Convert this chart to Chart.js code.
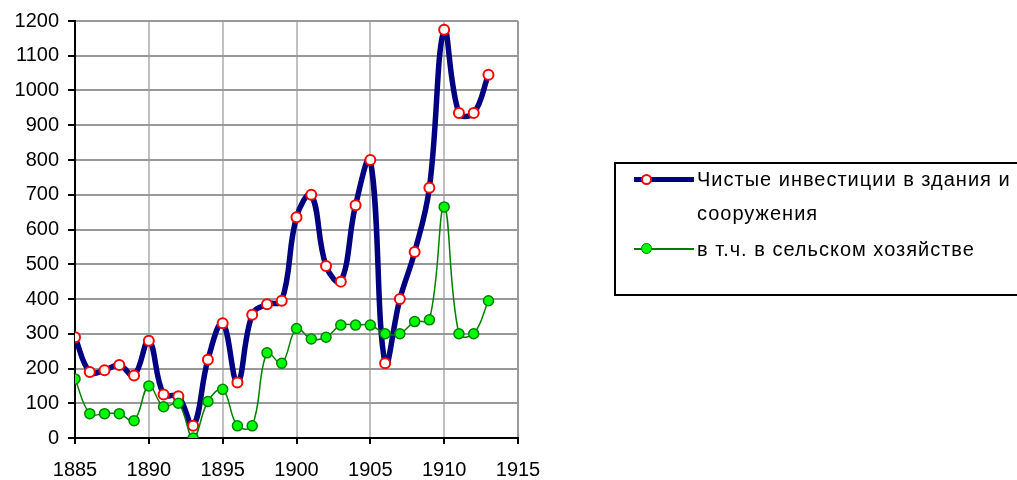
<!DOCTYPE html>
<html lang="ru">
<head>
<meta charset="UTF-8">
<title>Инвестиции в здания и сооружения</title>
<script src="https://cdn.jsdelivr.net/npm/chart.js"></script>
<style>
  html, body { margin: 0; padding: 0; background: #fff; overflow: hidden; }
  #wrap { position: relative; width: 1017px; height: 480px; }
  #legend {
    position: absolute; left: 614px; top: 162px; width: 440px; height: 134px;
    border: 2px solid #000; box-sizing: border-box;
    font-family: "Liberation Sans", Arial, sans-serif; font-size: 20px; color: #000;
  }
  .item { position: absolute; left: 0; }
  .sample { position: absolute; left: 18px; width: 60px; }
  .txt { position: absolute; left: 81px; white-space: nowrap; line-height: 34px; letter-spacing: 1px; }
  .dot { position: absolute; border-radius: 50%; box-sizing: border-box; width: 11px; height: 11px; left: 25px; }
</style>
</head>
<body>
<div id="wrap">
  <canvas id="chart" width="1017" height="480"></canvas>
  <div id="legend">
    <div class="item" style="top:0">
      <div class="sample" style="top:13px;height:5px;background:#000080"></div>
      <div class="dot" style="top:10px;background:#fff;border:2px solid #ff0000"></div>
      <div class="txt" style="top:-2px">Чистые инвестиции в здания и<br>сооружения</div>
    </div>
    <div class="item" style="top:69px">
      <div class="sample" style="top:15px;height:2px;background:#008000"></div>
      <div class="dot" style="top:10px;background:#00ff00;border:1.5px solid #008000"></div>
      <div class="txt" style="top:-1px">в т.ч. в сельском хозяйстве</div>
    </div>
  </div>
</div>
<script>
// годы и значения
const years = [1885, 1886, 1887, 1888, 1889, 1890, 1891, 1892, 1893, 1894,
               1895, 1896, 1897, 1898, 1899, 1900, 1901, 1902, 1903, 1904,
               1905, 1906, 1907, 1908, 1909, 1910, 1911, 1912, 1913];
const totalInvest = [290, 190, 195, 210, 180, 280, 125, 120, 35, 225,
                     330, 160, 355, 385, 395, 635, 700, 495, 450, 670,
                     800, 215, 400, 535, 720, 1175, 935, 935, 1045];
const agriInvest = [170, 70, 70, 70, 50, 150, 90, 100, 0, 105,
                    140, 35, 35, 245, 215, 315, 285, 290, 325, 325,
                    325, 300, 300, 335, 340, 665, 300, 300, 395];
const seriesNames = ['Чистые инвестиции в здания и сооружения', 'в т.ч. в сельском хозяйстве'];

const toPoints = vals => vals.map((v, i) => ({ x: years[i], y: v }));

new Chart(document.getElementById('chart'), {
  type: 'line',
  data: {
    datasets: [
      {
        label: seriesNames[0],
        data: toPoints(totalInvest),
        borderColor: '#000080',
        borderWidth: 5.5,
        tension: 0.4,
        pointRadius: 5,
        pointBorderWidth: 2,
        pointBackgroundColor: '#fff',
        pointBorderColor: '#ff0000',
        order: 1
      },
      {
        label: seriesNames[1],
        data: toPoints(agriInvest),
        borderColor: '#008000',
        borderWidth: 1.5,
        tension: 0.4,
        pointRadius: 5,
        pointBorderWidth: 1.5,
        pointBackgroundColor: '#00ff00',
        pointBorderColor: '#008000',
        order: 0
      }
    ]
  },
  options: {
    responsive: false,
    animation: false,
    layout: { padding: { top: 21, right: 499, left: 0, bottom: 0 } },
    plugins: { legend: { display: false }, tooltip: { enabled: false } },
    scales: {
      x: {
        type: 'linear',
        min: 1885, max: 1915,
        afterFit: s => { s.height = 42; },
        ticks: {
          stepSize: 5,
          padding: 14,
          color: '#000',
          font: { family: 'Liberation Sans', size: 20 },
          callback: v => String(v)
        },
        grid: {
          color: c => (c.tick && c.tick.value === 1915) ? '#999' : '#c0c0c0',
          lineWidth: 2,
          tickLength: 6,
          tickColor: '#000'
        },
        border: { color: '#000', width: 2 }
      },
      y: {
        min: 0, max: 1200,
        afterFit: s => { s.width = 75; },
        ticks: {
          stepSize: 100,
          padding: 9,
          color: '#000',
          font: { family: 'Liberation Sans', size: 20 },
          callback: v => String(v)
        },
        grid: {
          color: '#999',
          lineWidth: 2,
          tickLength: 7,
          tickColor: '#000'
        },
        border: { color: '#000', width: 2 }
      }
    }
  }
});
</script>
</body>
</html>
